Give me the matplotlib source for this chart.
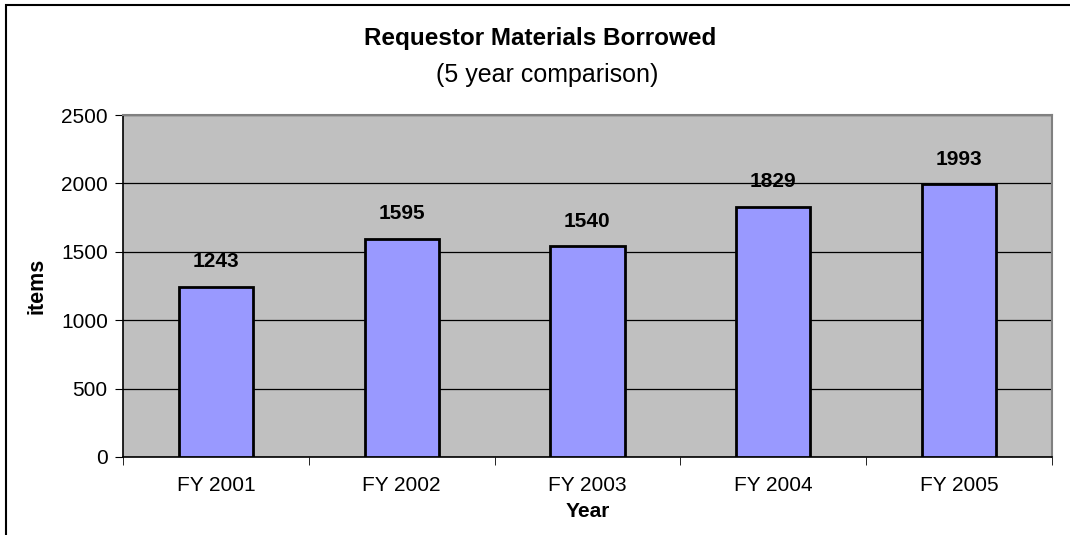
import matplotlib.pyplot as plt
from matplotlib.patches import Rectangle
import numpy as np

plt.rcParams['font.family'] = ['Liberation Sans', 'DejaVu Sans']

years = ["FY 2001", "FY 2002", "FY 2003", "FY 2004", "FY 2005"]
items = [1243, 1595, 1540, 1829, 1993]
yticks = [0, 500, 1000, 1500, 2000, 2500]

fig = plt.figure(figsize=(10.7, 5.35), dpi=100)
ax = fig.add_axes([0.115, 0.146, 0.868, 0.639])
ax.set_facecolor('#C0C0C0')

x = np.arange(len(years))
ax.bar(x, items, width=0.4, color='#9999FF', edgecolor='black', linewidth=2, zorder=3)

for xi, v in zip(x, items):
    ax.annotate(str(v), (xi, v), xytext=(0, 18), textcoords='offset points',
                ha='center', va='center', fontsize=15, fontweight='bold')

ax.set_xlim(-0.5, len(years) - 0.5)
ax.set_ylim(0, 2500)
ax.set_yticks(yticks)
ax.set_xticks(x)
ax.set_xticklabels(years)
ax.set_xticks(np.arange(len(years) + 1) - 0.5, minor=True)
ax.tick_params(axis='x', which='major', length=0, labelsize=15, pad=14)
ax.tick_params(axis='x', which='minor', length=6, direction='out', color='black')
ax.tick_params(axis='y', length=6, direction='out', labelsize=15, pad=5)

ax.yaxis.grid(True, color='black', linewidth=0.9, zorder=1)
ax.set_axisbelow(True)

for s in ['top', 'right']:
    ax.spines[s].set_color('#808080')
    ax.spines[s].set_linewidth(1.5)
for s in ['left', 'bottom']:
    ax.spines[s].set_color('black')
    ax.spines[s].set_linewidth(1.2)

ax.set_xlabel("Year", fontsize=15, fontweight='bold', labelpad=5)
ax.set_ylabel("items", fontsize=15.5, fontweight='bold', labelpad=10)

fig.text(0.505, 1 - 39 / 535, "Requestor Materials Borrowed", ha='center', va='center',
         fontsize=17.5, fontweight='bold')
fig.text(0.511, 1 - 75 / 535, "(5 year comparison)", ha='center', va='center', fontsize=18)

# outer chart border (right/bottom edges fall outside the image)
fig.patches.append(Rectangle((6 / 1070, -0.1), 1.2, 1.1 - 5 / 535, transform=fig.transFigure,
                             fill=False, edgecolor='black', linewidth=1.5))

fig.savefig("out.png", dpi=100)
